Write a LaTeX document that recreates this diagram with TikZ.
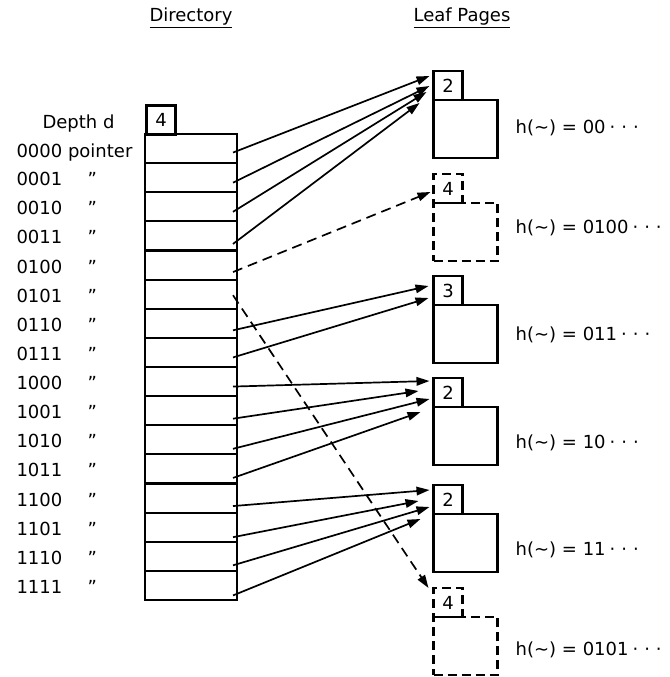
\documentclass[tikz,border=0pt]{standalone}
\usepackage{fontspec}
\setmainfont{DejaVu Sans}
\usetikzlibrary{arrows.meta,calc}
\newcommand{\leafdots}{\hspace{4pt}\textperiodcentered\hspace{6pt}\textperiodcentered\hspace{6pt}\textperiodcentered}

\begin{document}
\begin{tikzpicture}[x=1pt, y=-1pt, >={Triangle[length=13pt,width=8.5pt]},
  every node/.style={font=\fontsize{18}{20}\selectfont},
  dirslot/.style={draw, line width=2.2pt, minimum width=92pt, minimum height=29.125pt, inner sep=0pt, outer sep=0pt},
  leaftab/.style={draw, line width=2.2pt, minimum width=29pt, minimum height=29pt, inner sep=0pt, outer sep=0pt},
  leafpage/.style={draw, line width=2.2pt, minimum width=64pt, minimum height=58pt, inner sep=0pt, outer sep=0pt, anchor=north west},
  hashlabel/.style={anchor=west, inner sep=1pt},
  ghost/.style={dash pattern=on 9pt off 5pt},
  ptr/.style={->, line width=1.7pt},
  newptr/.style={ptr, dash pattern=on 10pt off 6pt}]
\useasboundingbox (0,0) rectangle (669,677);
% Headings
\node (dirhead) at (191,18) {\underline{Directory}};
\node (leafhead) at (462,18) {\underline{Leaf Pages}};
% Directory
\node[leaftab] (dtab) at (161,120) {4};
\node[anchor=base west] (depth) at (39,128) {Depth d};
\foreach \i in {0,...,15} {
  \node[dirslot] (r\i) at (191,{134+29.125*(\i+0.5)}) {};
}
\node[anchor=base west] (l0) at (13,157) {0000 pointer};
\foreach \b [count=\i from 1] in {0001,0010,0011,0100,0101,0110,0111,1000,1001,1010,1011,1100,1101,1110,1111} {
  \node[anchor=base west] (l\i) at (13,{134+29.125*(\i+0.5)+8}) {\makebox[71pt][l]{\b}''};
}
% Leaf pages
\node[leaftab] (t1) at (448,85.5) {2};
\node[leafpage] (p1) at (t1.south west) {};
\node[hashlabel] (h1) at ($(p1.east)+(17,-1)$) {h(\textasciitilde) = 00\leafdots};
\node[leaftab, ghost] (t2) at (448,188.5) {4};
\node[leafpage, ghost] (p2) at (t2.south west) {};
\node[hashlabel] (h2) at ($(p2.east)+(17,-4)$) {h(\textasciitilde) = 0100\leafdots};
\node[leaftab] (t3) at (448,290.5) {3};
\node[leafpage] (p3) at (t3.south west) {};
\node[hashlabel] (h3) at ($(p3.east)+(17,1)$) {h(\textasciitilde) = 011\leafdots};
\node[leaftab] (t4) at (448,392.5) {2};
\node[leafpage] (p4) at (t4.south west) {};
\node[hashlabel] (h4) at ($(p4.east)+(17,7)$) {h(\textasciitilde) = 10\leafdots};
\node[leaftab] (t5) at (448,499.5) {2};
\node[leafpage] (p5) at (t5.south west) {};
\node[hashlabel] (h5) at ($(p5.east)+(17,7)$) {h(\textasciitilde) = 11\leafdots};
\node[leaftab, ghost] (t6) at (448,602.5) {4};
\node[leafpage, ghost] (p6) at (t6.south west) {};
\node[hashlabel] (h6) at ($(p6.east)+(17,4)$) {h(\textasciitilde) = 0101\leafdots};
% Pointers
\draw[ptr] ($(r0.east)+(-4,4)$) -- ($(t1.west)+(-4,-9.5)$);
\draw[ptr] ($(r1.east)+(-4,5)$) -- ($(t1.west)+(-4,0.5)$);
\draw[ptr] ($(r2.east)+(-4,5)$) -- ($(t1.west)+(-7,6.5)$);
\draw[ptr] ($(r3.east)+(-4,8)$) -- ($(t1.west)+(-14,17.5)$);
\draw[newptr] ($(r4.east)+(-4,7)$) -- ($(t2.west)+(-3,3.5)$);
\draw[newptr] ($(r5.east)+(-4,1)$) -- ($(t6.west)+(-5,-14.5)$);
\draw[ptr] ($(r6.east)+(-4,7)$) -- ($(t3.west)+(-5,-4.5)$);
\draw[ptr] ($(r7.east)+(-4,5)$) -- ($(t3.west)+(-5,7.5)$);
\draw[ptr] ($(r8.east)+(-4,5)$) -- ($(t4.west)+(-4,-11.5)$);
\draw[ptr] ($(r9.east)+(-4,8)$) -- ($(t4.west)+(-15,-1.5)$);
\draw[ptr] ($(r10.east)+(-4,9)$) -- ($(t4.west)+(-4,6.5)$);
\draw[ptr] ($(r11.east)+(-4,9)$) -- ($(t4.west)+(-13,19.5)$);
\draw[ptr] ($(r12.east)+(-4,8)$) -- ($(t5.west)+(-4,-9.5)$);
\draw[ptr] ($(r13.east)+(-4,10)$) -- ($(t5.west)+(-15,1.5)$);
\draw[ptr] ($(r14.east)+(-4,9)$) -- ($(t5.west)+(-4,7.5)$);
\draw[ptr] ($(r15.east)+(-4,10)$) -- ($(t5.west)+(-13,19.5)$);
\end{tikzpicture}
\end{document}
